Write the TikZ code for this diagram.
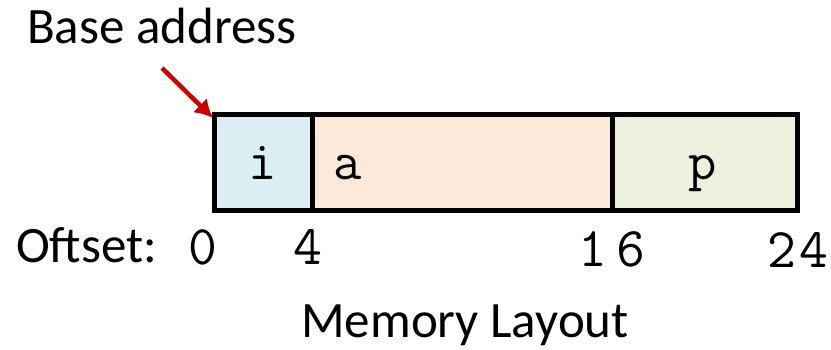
\documentclass[tikz,border=0pt]{standalone}
\usepackage{fontspec}
\usetikzlibrary{arrows.meta}
\setmainfont{Carlito}
\definecolor{iblue}{RGB}{219,238,244}
\definecolor{apeach}{RGB}{253,233,217}
\definecolor{pgreen}{RGB}{235,241,222}
\definecolor{arrred}{RGB}{204,0,0}
\begin{document}
\begin{tikzpicture}[x=1pt,y=-1pt,
  cell/.style={draw=black,line width=5pt},
  lbl/.style={inner sep=0pt,font=\fontsize{51}{56}\selectfont},
  letter/.style={inner sep=0pt,font=\ttfamily\fontsize{55}{60}\selectfont},
  mono/.style={inner sep=0pt,font=\ttfamily\fontsize{56}{60}\selectfont}]
\useasboundingbox (0,0) rectangle (831,349);
\fill[iblue] (214,114.5) rectangle (312,210.5);
\fill[apeach] (312,114.5) rectangle (612,210.5);
\fill[pgreen] (612,114.5) rectangle (797,210.5);
\draw[cell] (214,114.5) rectangle (797,210.5);
\draw[cell] (312,114.5) -- (312,210.5);
\draw[cell] (612,114.5) -- (612,210.5);
\coordinate (corner) at (213,118);
\coordinate (tail) at (162,68);
\draw[arrred,line width=4.5pt,-{Latex[length=18pt,width=20pt]}] (tail) -- (corner);
\node[lbl,anchor=base west] (base) at (27,43) {Base address};
\node[letter,anchor=base] (ti) at (263,179) {i};
\node[letter,anchor=base west] (ta) at (333,179) {a};
\node[letter,anchor=base] (tp) at (703,179) {p};
\node[lbl,anchor=base west] (off) at (16,262) {Oftset:};
\node[mono,anchor=base] (n0) at (203,264) {0};
\node[mono,anchor=base] (n4) at (308,264) {4};
\node[mono,anchor=base] (n16) at (612,266) {1\hspace{10pt}6};
\node[mono,anchor=base] (n24) at (798,267) {2\hspace{4pt}4};
\node[lbl,anchor=base] (ml) at (465,337) {Memory Layout};
\end{tikzpicture}
\end{document}
